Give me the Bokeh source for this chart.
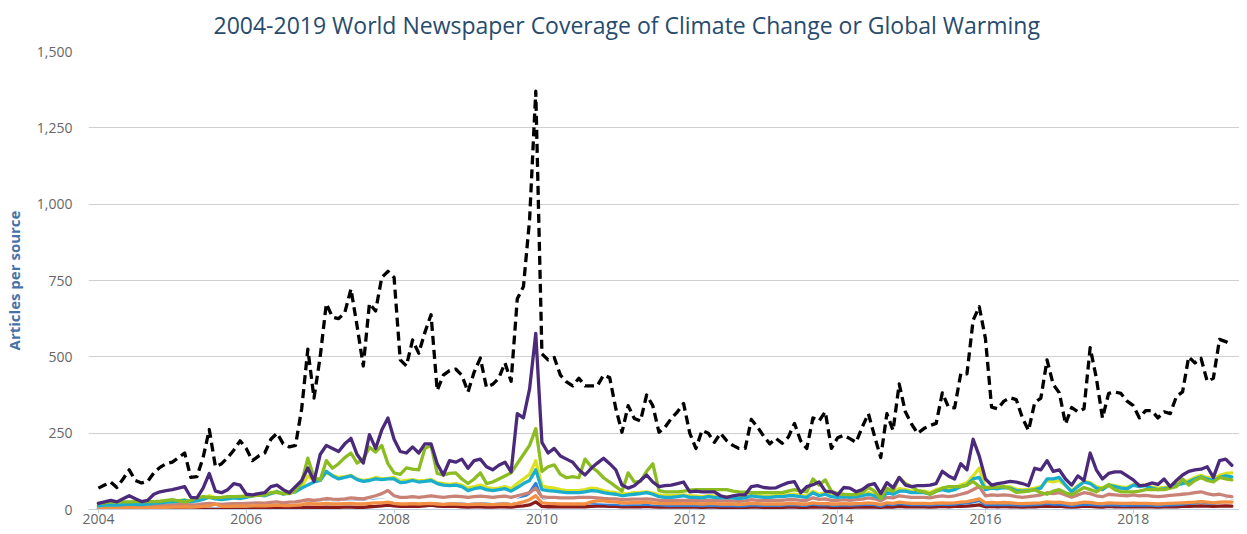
from bokeh.plotting import figure
from bokeh.models import FixedTicker, NumeralTickFormatter, BasicTickFormatter, Range1d
from bokeh.embed import file_html
from bokeh.resources import INLINE

start_year = 2004
tick_years = [2004, 2006, 2008, 2010, 2012, 2014, 2016, 2018]

# Monthly values, Jan 2004 .. May 2019 (articles per source)
world_total = [
    70, 80, 90, 72, 100, 130, 95, 87, 92, 120, 138, 150,
    155, 170, 185, 105, 108, 170, 262, 140, 150, 170, 195, 225,
    200, 160, 175, 185, 230, 250, 215, 205, 210, 330, 525, 365,
    500, 674, 630, 625, 645, 722, 600, 470, 675, 650, 760, 780,
    760, 490, 470, 555, 512, 580, 638, 390, 440, 455, 460, 440,
    385, 450, 496, 400, 410, 430, 480, 420, 690, 730, 950, 1370,
    510, 490, 498, 440, 418, 405, 430, 405, 405, 405, 440, 432,
    330, 253, 340, 298, 290, 375, 340, 253, 270, 298, 320, 347,
    250, 200, 259, 250, 220, 250, 225, 210, 200, 200, 295, 270,
    240, 215, 233, 217, 237, 282, 225, 200, 300, 290, 320, 200,
    235, 243, 232, 220, 270, 314, 240, 170, 314, 259, 411, 320,
    280, 249, 265, 275, 282, 382, 335, 333, 445, 444, 620, 664,
    560, 335, 330, 355, 366, 360, 300, 259, 350, 365, 490, 410,
    382, 280, 334, 320, 330, 530, 431, 300, 380, 385, 380, 355,
    340, 300, 324, 324, 300, 320, 314, 370, 385, 500, 480, 495,
    420, 430, 557, 550, 540,
]

purple = [
    20, 25, 30, 25, 35, 45, 35, 26, 30, 50, 58, 62,
    65, 70, 75, 40, 38, 70, 118, 60, 55, 65, 85, 80,
    50, 48, 52, 55, 75, 80, 65, 55, 75, 95, 136, 92,
    180, 210, 200, 190, 215, 233, 180, 152, 245, 200, 260, 300,
    230, 190, 185, 205, 185, 215, 215, 150, 113, 160, 155, 165,
    135, 160, 165, 140, 130, 145, 155, 123, 314, 300, 395, 577,
    220, 185, 200, 175, 165, 155, 130, 113, 135, 152, 168, 150,
    130, 80, 70, 78, 95, 113, 90, 75, 78, 80, 85, 90,
    58, 60, 58, 58, 58, 45, 40, 45, 48, 48, 75, 78,
    72, 70, 71, 80, 88, 91, 55, 75, 81, 90, 60, 58,
    48, 72, 70, 58, 65, 80, 85, 52, 88, 71, 105, 80,
    75, 78, 78, 80, 85, 125, 110, 100, 150, 130, 230, 175,
    100, 80, 85, 88, 92, 90, 85, 78, 135, 130, 160, 125,
    130, 100, 80, 110, 95, 185, 130, 100, 118, 123, 123, 110,
    97, 78, 80, 87, 82, 100, 75, 95, 113, 125, 130, 132,
    140, 105, 160, 165, 145,
]

green = [
    20, 22, 24, 25, 25, 25, 26, 26, 26, 26, 27, 30,
    32, 28, 25, 30, 38, 42, 40, 39, 40, 42, 42, 43,
    44, 45, 46, 48, 55, 55, 52, 52, 60, 90, 168, 105,
    97, 160, 135, 150, 170, 185, 152, 165, 204, 188, 210, 150,
    120, 115, 136, 132, 130, 200, 210, 118, 113, 118, 120, 100,
    85, 100, 120, 85, 90, 100, 110, 120, 150, 180, 210, 265,
    125, 140, 146, 115, 104, 108, 104, 165, 140, 125, 104, 90,
    75, 60, 120, 90, 92, 125, 150, 62, 58, 58, 58, 60,
    63, 65, 65, 65, 65, 65, 65, 60, 58, 57, 55, 55,
    55, 55, 55, 55, 60, 65, 60, 58, 100, 80, 97, 60,
    52, 50, 49, 49, 55, 72, 60, 35, 70, 60, 105, 85,
    75, 62, 58, 50, 60, 70, 75, 75, 75, 80, 92, 75,
    72, 72, 73, 75, 68, 56, 58, 60, 65, 55, 50, 60,
    65, 55, 48, 60, 72, 65, 58, 70, 80, 65, 58, 58,
    58, 60, 65, 65, 65, 65, 70, 75, 100, 80, 95, 105,
    95, 90, 105, 100, 97,
]

yellow = [
    12, 14, 15, 15, 17, 20, 18, 17, 18, 22, 24, 25,
    27, 28, 32, 27, 30, 36, 45, 38, 35, 37, 40, 38,
    42, 46, 50, 47, 55, 60, 52, 57, 60, 75, 110, 95,
    100, 120, 112, 105, 108, 112, 100, 95, 98, 105, 100, 102,
    105, 92, 95, 98, 94, 95, 98, 88, 85, 82, 85, 80,
    70, 75, 80, 72, 68, 70, 75, 68, 85, 100, 115, 160,
    78, 72, 70, 65, 62, 62, 62, 65, 70, 68, 62, 58,
    55, 50, 52, 55, 56, 58, 54, 48, 45, 45, 46, 48,
    45, 44, 42, 45, 44, 42, 42, 42, 40, 42, 48, 46,
    44, 44, 45, 46, 48, 50, 46, 44, 60, 50, 55, 46,
    45, 46, 44, 46, 50, 55, 50, 40, 62, 55, 68, 65,
    60, 60, 60, 55, 65, 70, 65, 70, 80, 88, 110, 136,
    70, 75, 72, 76, 74, 66, 64, 66, 70, 75, 95, 90,
    95, 78, 62, 78, 92, 88, 75, 70, 82, 78, 74, 72,
    82, 78, 80, 74, 70, 72, 76, 84, 90, 95, 105, 112,
    105, 100, 112, 118, 120,
]

cyan = [
    12, 14, 15, 14, 16, 18, 17, 16, 18, 20, 22, 24,
    25, 27, 30, 26, 28, 33, 40, 35, 32, 35, 38, 36,
    40, 45, 48, 45, 52, 58, 50, 55, 58, 70, 80, 90,
    95, 125, 110, 100, 105, 110, 98, 92, 95, 100, 98, 100,
    100, 88, 90, 95, 90, 92, 95, 85, 80, 78, 80, 75,
    62, 68, 72, 65, 62, 65, 68, 60, 72, 85, 95, 130,
    65, 62, 60, 58, 55, 55, 55, 58, 62, 60, 55, 52,
    50, 45, 48, 50, 52, 55, 50, 42, 40, 40, 42, 45,
    40, 40, 38, 42, 40, 38, 38, 38, 36, 38, 45, 42,
    40, 40, 42, 42, 45, 45, 42, 40, 55, 45, 50, 42,
    40, 42, 40, 42, 45, 50, 45, 35, 55, 50, 60, 60,
    55, 55, 55, 50, 60, 65, 60, 65, 75, 80, 100, 105,
    65, 70, 68, 72, 70, 62, 60, 62, 65, 70, 100, 100,
    105, 80, 58, 75, 90, 85, 70, 65, 80, 75, 70, 68,
    80, 75, 78, 70, 65, 68, 72, 80, 85, 90, 100, 107,
    100, 95, 105, 110, 107,
]

pink = [
    8, 9, 10, 10, 11, 12, 11, 11, 12, 13, 14, 15,
    15, 16, 17, 15, 16, 18, 20, 18, 17, 18, 19, 19,
    20, 21, 22, 21, 23, 25, 22, 24, 25, 28, 32, 30,
    32, 36, 34, 33, 35, 38, 36, 35, 40, 45, 52, 62,
    45, 40, 40, 42, 40, 42, 45, 42, 40, 42, 44, 42,
    40, 42, 44, 42, 40, 42, 44, 40, 45, 50, 55, 70,
    42, 40, 40, 38, 38, 38, 40, 40, 40, 38, 36, 35,
    35, 32, 33, 34, 34, 35, 33, 30, 30, 30, 30, 30,
    30, 30, 28, 30, 30, 28, 28, 28, 27, 28, 32, 30,
    30, 30, 30, 30, 32, 32, 30, 30, 38, 33, 35, 30,
    30, 32, 30, 32, 34, 38, 35, 28, 40, 38, 45, 42,
    40, 40, 40, 38, 42, 45, 42, 45, 50, 55, 65, 75,
    45, 48, 46, 48, 46, 42, 40, 42, 45, 48, 55, 52,
    55, 48, 40, 48, 55, 52, 45, 42, 50, 48, 46, 45,
    48, 45, 46, 44, 42, 44, 46, 48, 50, 52, 55, 58,
    52, 48, 50, 45, 42,
]

white = [
    6, 6, 7, 7, 7, 8, 7, 7, 8, 8, 9, 10,
    10, 11, 11, 10, 11, 12, 13, 12, 12, 12, 13, 13,
    13, 14, 15, 14, 15, 17, 15, 16, 17, 19, 22, 20,
    21, 24, 22, 22, 23, 25, 23, 23, 26, 28, 30, 33,
    30, 27, 27, 28, 27, 28, 30, 28, 27, 28, 29, 28,
    27, 28, 29, 28, 27, 28, 29, 27, 30, 34, 38, 50,
    28, 27, 27, 26, 26, 26, 27, 27, 27, 26, 25, 24,
    24, 22, 23, 23, 23, 24, 22, 21, 21, 21, 21, 21,
    21, 21, 20, 21, 21, 20, 20, 20, 19, 20, 22, 21,
    21, 21, 21, 21, 22, 22, 21, 21, 26, 23, 24, 21,
    21, 22, 21, 22, 23, 26, 24, 19, 27, 26, 30, 28,
    27, 27, 27, 26, 28, 30, 28, 30, 33, 36, 42, 48,
    30, 32, 31, 32, 31, 28, 27, 28, 30, 32, 36, 34,
    36, 32, 27, 32, 36, 34, 30, 28, 33, 32, 31, 30,
    32, 30, 31, 29, 28, 29, 31, 32, 33, 34, 36, 38,
    34, 32, 33, 30, 28,
]

blue = [
    5, 5, 6, 6, 6, 7, 6, 6, 7, 8, 8, 9,
    9, 10, 10, 9, 10, 11, 12, 11, 10, 11, 12, 12,
    12, 13, 14, 13, 14, 16, 14, 15, 16, 22, 28, 20,
    20, 25, 22, 22, 24, 26, 24, 24, 26, 30, 30, 32,
    28, 25, 25, 26, 25, 26, 28, 25, 24, 25, 26, 24,
    22, 24, 25, 22, 22, 24, 25, 22, 30, 40, 55, 85,
    30, 26, 24, 22, 22, 22, 22, 22, 22, 20, 20, 18,
    18, 16, 16, 17, 17, 18, 16, 15, 14, 14, 14, 14,
    14, 14, 13, 14, 14, 13, 13, 13, 12, 13, 15, 14,
    14, 14, 14, 14, 15, 15, 14, 14, 18, 15, 16, 14,
    14, 15, 14, 15, 16, 18, 16, 12, 18, 16, 20, 18,
    16, 16, 16, 15, 17, 18, 17, 18, 20, 22, 25, 30,
    16, 17, 16, 17, 16, 15, 14, 15, 16, 18, 20, 18,
    18, 15, 13, 15, 18, 17, 15, 14, 16, 15, 14, 14,
    15, 14, 15, 14, 13, 14, 15, 16, 18, 20, 22, 25,
    22, 20, 25, 30, 28,
]

orange = [
    4, 4, 5, 5, 5, 6, 5, 5, 6, 6, 7, 7,
    8, 8, 9, 8, 9, 10, 12, 18, 10, 10, 11, 11,
    11, 12, 12, 12, 13, 14, 13, 13, 14, 16, 20, 18,
    18, 20, 18, 18, 19, 20, 18, 18, 20, 22, 22, 24,
    20, 18, 18, 19, 18, 19, 20, 18, 17, 18, 18, 17,
    16, 17, 18, 16, 16, 17, 18, 16, 20, 25, 32, 45,
    22, 20, 19, 18, 18, 18, 18, 18, 25, 28, 28, 26,
    25, 22, 22, 23, 23, 24, 22, 20, 19, 19, 19, 19,
    19, 19, 18, 19, 19, 18, 18, 18, 17, 18, 20, 19,
    18, 18, 18, 18, 19, 19, 18, 18, 22, 19, 20, 18,
    18, 19, 18, 19, 20, 22, 20, 16, 22, 20, 24, 22,
    20, 20, 20, 19, 21, 22, 21, 22, 24, 26, 30, 35,
    22, 23, 22, 23, 22, 20, 19, 20, 21, 22, 25, 23,
    24, 21, 18, 21, 24, 23, 20, 19, 22, 21, 20, 20,
    21, 20, 20, 19, 18, 19, 20, 21, 22, 23, 24, 26,
    24, 22, 24, 25, 24,
]

darkred = [
    2, 2, 2, 2, 2, 3, 2, 2, 3, 3, 3, 3,
    3, 3, 3, 3, 3, 4, 4, 4, 4, 4, 4, 4,
    4, 4, 5, 5, 5, 5, 5, 5, 5, 6, 8, 7,
    7, 8, 7, 7, 8, 8, 7, 7, 9, 10, 12, 14,
    12, 10, 10, 11, 10, 12, 14, 11, 10, 10, 10, 9,
    8, 9, 9, 8, 8, 9, 9, 8, 10, 12, 15, 25,
    10, 9, 9, 9, 9, 9, 9, 9, 10, 11, 11, 10,
    10, 9, 9, 9, 9, 10, 9, 8, 8, 8, 8, 8,
    8, 8, 7, 8, 8, 7, 7, 7, 7, 7, 8, 8,
    7, 7, 7, 7, 8, 8, 7, 7, 9, 8, 8, 7,
    7, 8, 7, 8, 8, 9, 8, 7, 9, 8, 10, 9,
    9, 9, 9, 8, 9, 10, 9, 10, 10, 11, 13, 15,
    9, 10, 9, 10, 9, 9, 8, 9, 9, 10, 11, 10,
    11, 9, 8, 9, 11, 10, 9, 8, 10, 9, 9, 9,
    9, 9, 9, 9, 8, 9, 9, 9, 10, 10, 11, 12,
    11, 10, 11, 12, 11,
]

n = len(world_total)
months = [start_year + i / 12.0 for i in range(n)]

p = figure(
    width=1239, height=526,
    output_backend="svg", toolbar_location=None,
    x_range=Range1d(2003.866, 2019.437),
    y_range=Range1d(0, 1500),
    min_border_left=80, min_border_right=0, min_border_top=44, min_border_bottom=10,
    background_fill_color="white", border_fill_color="white",
)
p.outline_line_color = None

p.title.text = "2004-2019 World Newspaper Coverage of Climate Change or Global Warming"
p.title.align = "left"
p.title.offset = 125
p.title.vertical_align = "top"
p.title.text_font = "Open Sans"
p.title.text_font_size = "23px"
p.title.text_font_style = "normal"
p.title.text_color = "#274b6d"
p.title.standoff = 17

series = [
    (darkred, "#8b1a1a", None),
    (blue, "#2f7ed8", None),
    (white, "#ffffff", None),
    (pink, "#c98276", None),
    (orange, "#f28f43", None),
    (yellow, "#dbe21c", None),
    (cyan, "#1aadce", None),
    (green, "#8bbc21", None),
    (purple, "#4b2a7b", None),
    (world_total, "#000000", "9 5"),
]
for vals, color, dash in series:
    m = min(len(vals), n)
    if dash:
        p.line(months[:m], vals[:m], line_color=color, line_width=3.3,
               line_dash=dash, line_join="round")
    else:
        p.line(months[:m], vals[:m], line_color=color, line_width=3.3,
               line_join="round", line_cap="round")

# axes
p.xaxis.ticker = FixedTicker(ticks=tick_years)
p.xaxis.formatter = BasicTickFormatter(use_scientific=False)
p.xaxis.axis_line_color = "#c0d0e0"
p.xaxis.major_tick_line_color = "#c0d0e0"
p.xaxis.major_tick_in = 0
p.xaxis.major_tick_out = 4
p.xaxis.minor_tick_line_color = None
p.xaxis.major_label_standoff = 0
p.xaxis.major_label_text_font = "Open Sans"
p.xaxis.major_label_text_font_size = "14px"
p.xaxis.major_label_text_color = "#666666"

p.yaxis.ticker = FixedTicker(ticks=[0, 250, 500, 750, 1000, 1250, 1500])
p.yaxis.formatter = NumeralTickFormatter(format="0,0")
p.yaxis.axis_line_color = None
p.yaxis.major_tick_line_color = None
p.yaxis.minor_tick_line_color = None
p.yaxis.major_label_standoff = 10
p.yaxis.major_label_text_font = "Open Sans"
p.yaxis.major_label_text_font_size = "14px"
p.yaxis.major_label_text_color = "#666666"
p.yaxis.axis_label = "Articles per source"
p.yaxis.axis_label_text_font = "Open Sans"
p.yaxis.axis_label_text_font_size = "15px"
p.yaxis.axis_label_text_font_style = "bold"
p.yaxis.axis_label_text_color = "#4572a7"
p.yaxis.axis_label_standoff = 10

p.xgrid.grid_line_color = None
p.ygrid.grid_line_color = "#d0d0d0"
p.ygrid.grid_line_width = 1.2

open("out.html", "w").write(file_html(p, INLINE))
